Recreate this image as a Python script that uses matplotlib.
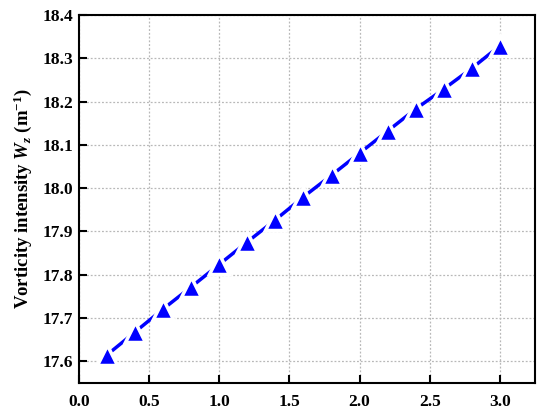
import numpy as np
import matplotlib
matplotlib.use("Agg")
import matplotlib.pyplot as plt

# data
x_vals = [0.2, 0.4, 0.6, 0.8, 1.0, 1.2, 1.4, 1.6, 1.8, 2.0, 2.2, 2.4, 2.6, 2.8, 3.0]
w_z = [17.615, 17.668, 17.721, 17.772, 17.824, 17.876, 17.927, 17.980, 18.030,
       18.081, 18.132, 18.183, 18.229, 18.277, 18.329]
x_ticks = [0.0, 0.5, 1.0, 1.5, 2.0, 2.5, 3.0]
y_ticks = [17.6, 17.7, 17.8, 17.9, 18.0, 18.1, 18.2, 18.3, 18.4]

plt.rcParams['font.family'] = ['Liberation Serif', 'DejaVu Serif']
plt.rcParams['mathtext.fontset'] = 'custom'
plt.rcParams['mathtext.rm'] = 'Liberation Serif:bold'
plt.rcParams['mathtext.it'] = 'Liberation Serif:bold:italic'
plt.rcParams['mathtext.bf'] = 'Liberation Serif:bold'

fig = plt.figure(figsize=(5.5, 4.13), dpi=100)
ax = fig.add_axes([0.1436, 0.0726, 0.8291, 0.8911])

ax.grid(True, color='#b8b8b8', linestyle=(0, (1.5, 1.5)), linewidth=0.9)
ax.set_axisbelow(True)

# solid line, white rim on markers leaves the small gap seen in the reference
ax.plot(x_vals, w_z, color='#0000ff', linestyle='-', linewidth=2.5,
        marker='^', markersize=14, markerfacecolor='#0000ff',
        markeredgecolor='white', markeredgewidth=2.5)

ax.set_xlim(0.0, 3.25)
ax.set_ylim(17.55, 18.4)
ax.set_xticks(x_ticks)
ax.set_yticks(y_ticks)
ax.set_xticklabels([f"{v:.1f}" for v in x_ticks], fontsize=12.5, fontweight='bold')
ax.set_yticklabels([f"{v:.1f}" for v in y_ticks], fontsize=12.5, fontweight='bold')
ax.tick_params(direction='in', length=6, width=1.5)
ax.tick_params(axis='x', pad=8)
ax.tick_params(axis='y', pad=4)

for s in ax.spines.values():
    s.set_linewidth(1.5)

ax.set_ylabel(r"Vorticity intensity $W_z$ (m$^{-1}$)", fontsize=13.5, fontweight='bold', labelpad=6)

fig.savefig("out.png", dpi=100)
